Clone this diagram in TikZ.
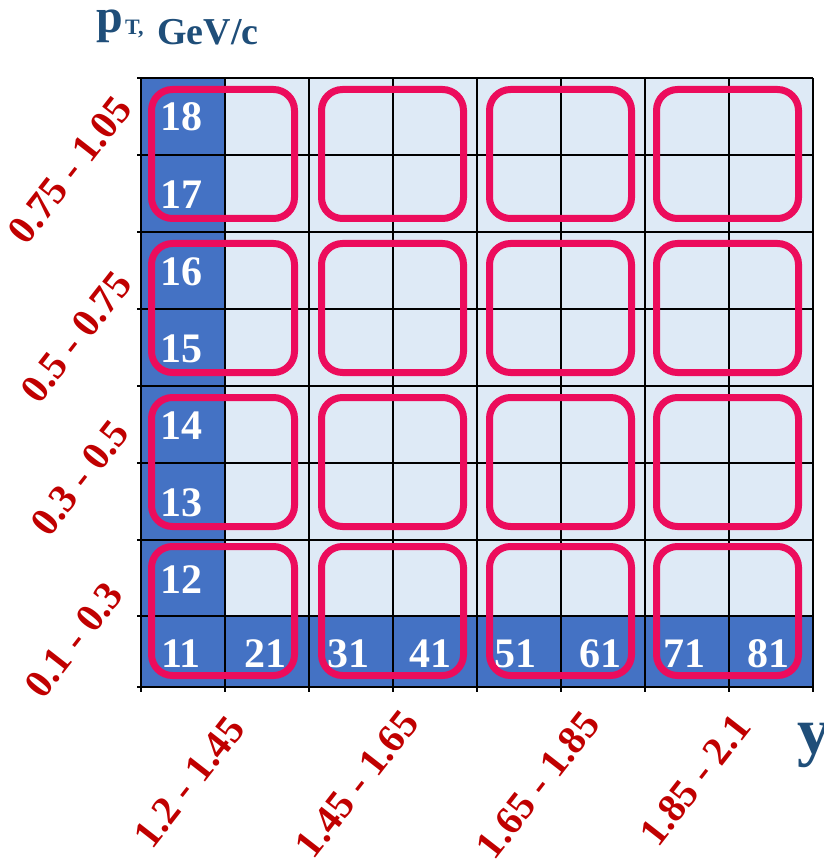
\documentclass[tikz,border=0pt]{standalone}
\usepackage{fontspec}
\setmainfont{Liberation Serif}
\usetikzlibrary{positioning}
\definecolor{cellblue}{RGB}{68,114,196}
\definecolor{celllight}{RGB}{222,234,246}
\definecolor{ringred}{RGB}{236,12,92}
\definecolor{labred}{RGB}{192,0,0}
\definecolor{axisblue}{RGB}{31,78,121}

\begin{document}
\begin{tikzpicture}[x=1pt,y=-1pt,
  num/.style={text=white,font=\bfseries\fontsize{42}{42}\selectfont,inner sep=0pt,anchor=west},
  binlab/.style={text=labred,font=\bfseries\fontsize{40}{40}\selectfont,rotate=52,inner sep=0pt},
  ring/.style={draw=ringred,line width=7pt,rounded corners=21pt},
  axis/.style={text=axisblue,inner sep=0pt,anchor=base west}]
\useasboundingbox (0,0) rectangle (823,866);
% cells
\fill[celllight] (141,78) rectangle (813,687);
\fill[cellblue] (141,78) rectangle (225,687);
\fill[cellblue] (141,616) rectangle (813,687);
\foreach \x in {141,225,309,393,477,561,645,729,813}
  \draw[line width=1.6pt] (\x,78) -- (\x,692);
\foreach \y in {78,155,232,309,386,463,540,616,687}
  \draw[line width=1.6pt] (137,\y) -- (813,\y);
% bin numbers
\node[num] (n18) at (160,117) {18};
\node[num] (n17) at (160,195) {17};
\node[num] (n16) at (160,272) {16};
\node[num] (n15) at (160,349) {15};
\node[num] (n14) at (160,426) {14};
\node[num] (n13) at (160,503) {13};
\node[num] (n12) at (160,580) {12};
\foreach \i/\x in {1/161,2/244,3/327,4/409,5/494,6/579,7/663,8/747}
  \node[num] (n\i1) at (\x,654) {\i1};
% merged bins
\foreach \l/\r in {148/298,318/467,486/635,653/802}
  \foreach \t/\b in {86/222,240/376,394/530,543/679}
    \draw[ring] (\l+3.5,\t+3.5) rectangle (\r-3.5,\b-3.5);
% axis labels
\node[axis,font=\bfseries\fontsize{48}{48}\selectfont] (pt) at (96,33) {p};
\node[axis,font=\bfseries\fontsize{22}{22}\selectfont] (ptsub) at (125,35) {T,};
\node[axis,font=\bfseries\fontsize{38}{38}\selectfont] (gev) at (157,45) {GeV/c};
\node[axis,font=\bfseries\fontsize{66}{66}\selectfont] (yax) at (797,753) {y};
\node[binlab] (pt4) at (70,170) {0.75 - 1.05};
\node[binlab] (pt3) at (76,337) {0.5 - 0.75};
\node[binlab] (pt2) at (80,478) {0.3 - 0.5};
\node[binlab] (pt1) at (74,640) {0.1 - 0.3};
\node[binlab] (y1) at (189,782) {1.2 - 1.45};
\node[binlab] (y2) at (357,784) {1.45 - 1.65};
\node[binlab] (y3) at (538,785) {1.65 - 1.85};
\node[binlab] (y4) at (695,780) {1.85 - 2.1};
\end{tikzpicture}
\end{document}
